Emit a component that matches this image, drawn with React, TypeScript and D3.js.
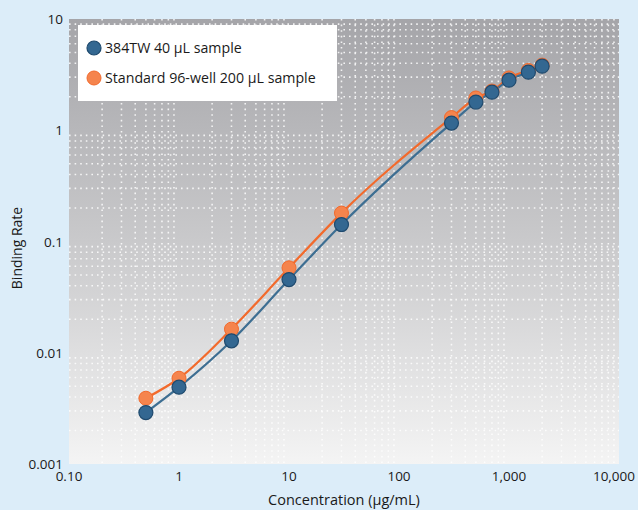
import React from "react";
import * as d3 from "d3";

const xTickValues = [0.1, 1, 10, 100, 1000, 10000];
const xTickLabels = ["0.10", "1", "10", "100", "1,000", "10,000"];
const yTickValues = [0.001, 0.01, 0.1, 1, 10];
const yTickLabels = ["0.001", "0.01", "0.1", "1", "10"];

const concentrations = [0.5, 1, 3, 10, 30, 300, 500, 700, 1000, 1500, 2000];
const series384 = [0.0029, 0.0049, 0.0128, 0.0455, 0.142, 1.16, 1.79, 2.2, 2.82, 3.33, 3.77];
const seriesStd = [0.0039, 0.0059, 0.0163, 0.058, 0.18, 1.3, 1.95, 2.25, 2.95, 3.45, 3.85];

const seriesNames = ["384TW 40 µL sample", "Standard 96-well 200 µL sample"];

const W = 638, H = 510;
const M = { left: 69, right: 19, top: 19, bottom: 46 };

export default function App() {
  const x = d3.scaleLog().domain([0.1, 10000]).range([M.left, W - M.right]);
  const y = d3.scaleLog().domain([0.001, 10]).range([H - M.bottom, M.top]);
  const font = "'Open Sans', 'Noto Sans', sans-serif";

  const minorX: number[] = [];
  for (let e = -1; e < 4; e++) for (let k = 2; k <= 9; k++) minorX.push(k * Math.pow(10, e));
  const minorY: number[] = [];
  for (let e = -3; e < 1; e++) for (let k = 2; k <= 9; k++) minorY.push(k * Math.pow(10, e));

  const line = d3
    .line<[number, number]>()
    .x((d) => x(d[0]))
    .y((d) => y(d[1]))
    .curve(d3.curveMonotoneX);

  const blueData = concentrations.map((c, i) => [c, series384[i]] as [number, number]);
  const orangeData = concentrations.map((c, i) => [c, seriesStd[i]] as [number, number]);

  const x0 = M.left, x1 = W - M.right, y0 = M.top, y1 = H - M.bottom;

  return (
    <svg width={W} height={H} style={{ position: "absolute", left: 0, top: 0 }} fontFamily={font}>
      <defs>
        <linearGradient id="bg" x1="0" y1="0" x2="0" y2="1">
          <stop offset="0%" stopColor="#a5a5a9" />
          <stop offset="50%" stopColor="#c9c9cb" />
          <stop offset="100%" stopColor="#f4f4f4" />
        </linearGradient>
        <clipPath id="plot">
          <rect x={x0} y={y0} width={x1 - x0} height={y1 - y0} />
        </clipPath>
      </defs>
      <rect width={W} height={H} fill="#dcedf9" />
      <rect x={x0} y={y0} width={x1 - x0} height={y1 - y0} fill="url(#bg)" />
      <g clipPath="url(#plot)" stroke="#ffffff" strokeWidth={1.6} strokeDasharray="1.6,4" opacity={0.85}>
        {minorX.map((v, i) => (
          <line key={"vx" + i} x1={x(v)} x2={x(v)} y1={y0} y2={y1} />
        ))}
        {minorY.map((v, i) => (
          <line key={"hy" + i} x1={x0} x2={x1} y1={y(v)} y2={y(v)} />
        ))}
      </g>
      <path d={line(orangeData) || ""} fill="none" stroke="#f26a2c" strokeWidth={2.2} />
      <path d={line(blueData) || ""} fill="none" stroke="#3d6e92" strokeWidth={2.2} />
      {orangeData.map((d, i) => (
        <circle key={"o" + i} cx={x(d[0])} cy={y(d[1])} r={7} fill="#f5844d" stroke="#f26a2c" strokeWidth={1} />
      ))}
      {blueData.map((d, i) => (
        <circle key={"b" + i} cx={x(d[0])} cy={y(d[1])} r={7} fill="#336791" stroke="#1f4a6e" strokeWidth={1.2} />
      ))}
      <rect x={78} y={25} width={259} height={76} fill="#ffffff" />
      <circle cx={94} cy={48} r={7} fill="#336791" stroke="#1f4a6e" strokeWidth={1.2} />
      <text x={105} y={53} fontSize={14.2} fill="#1a1a1a">{seriesNames[0]}</text>
      <circle cx={94} cy={78} r={7} fill="#f5844d" stroke="#f26a2c" strokeWidth={1} />
      <text x={105} y={83} fontSize={14.2} fill="#1a1a1a">{seriesNames[1]}</text>
      {yTickValues.map((v, i) => (
        <text key={"yt" + i} x={63} y={y(v) + 5} textAnchor="end" fontSize={13.5} fill="#1a1a1a">
          {yTickLabels[i]}
        </text>
      ))}
      {xTickValues.map((v, i) => {
        const last = i === xTickValues.length - 1;
        return (
          <text
            key={"xt" + i}
            x={last ? W - 3 : x(v)}
            y={481}
            textAnchor={last ? "end" : "middle"}
            fontSize={13.5}
            fill="#1a1a1a"
          >
            {xTickLabels[i]}
          </text>
        );
      })}
      <text x={(x0 + x1) / 2} y={505} textAnchor="middle" fontSize={14.5} fill="#1a1a1a">
        Concentration (µg/mL)
      </text>
      <text transform={`translate(22,248) rotate(-90)`} textAnchor="middle" fontSize={14} fill="#1a1a1a">
        Binding Rate
      </text>
    </svg>
  );
}
